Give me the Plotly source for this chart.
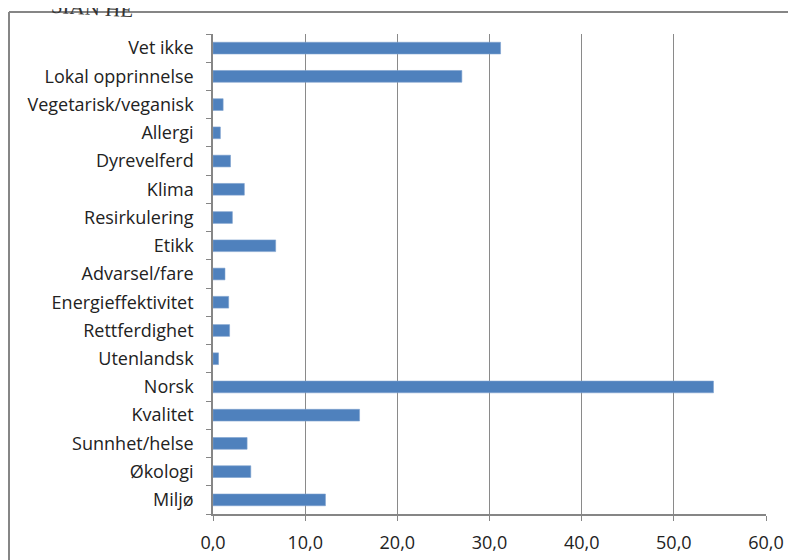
import plotly.graph_objects as go

categories = ["Miljø", "Økologi", "Sunnhet/helse", "Kvalitet", "Norsk", "Utenlandsk",
              "Rettferdighet", "Energieffektivitet", "Advarsel/fare", "Etikk",
              "Resirkulering", "Klima", "Dyrevelferd", "Allergi",
              "Vegetarisk/veganisk", "Lokal opprinnelse", "Vet ikke"]
values = [12.2, 4.1, 3.7, 15.9, 54.3, 0.6, 1.8, 1.7, 1.3, 6.8,
          2.1, 3.4, 1.9, 0.8, 1.1, 27.0, 31.2]
x_ticks = [0, 10, 20, 30, 40, 50, 60]

# plot area in figure pixels (page has 8px body offset)
L, R, T, B = 205, 758, 26, 506
PW, PH = R - L, B - T

fig = go.Figure(go.Bar(
    y=categories, x=values, orientation="h",
    marker=dict(color="#4F81BD", line=dict(color="#7EA1CE", width=0.6)),
))

AX = "#868686"
FONT = "Open Sans, Lato, sans-serif"
fig.update_layout(
    width=796, height=560,
    margin=dict(l=L, r=796 - R, t=T, b=560 - B, autoexpand=False),
    paper_bgcolor="white", plot_bgcolor="white",
    separators=",.",
    bargap=0.585,
    showlegend=False,
    font=dict(family=FONT, size=18, color="#222222"),
    xaxis=dict(range=[0, 60], tickvals=x_ticks, tickformat=".1f",
               showgrid=True, gridcolor="#8a8a8a", gridwidth=1,
               showline=True, linecolor=AX, linewidth=1.5,
               ticks="outside", ticklen=5, tickcolor=AX,
               zeroline=False, fixedrange=True, ticklabelstandoff=7,
               tickfont=dict(family=FONT, size=18, color="#222222")),
    yaxis=dict(type="category", categoryorder="array", categoryarray=categories,
               showline=True, linecolor=AX, linewidth=1.5,
               ticks="outside", ticklen=5, tickcolor=AX, tickson="boundaries",
               showgrid=False, ticklabelstandoff=14,
               tickfont=dict(family=FONT, size=18, color="#222222")),
    shapes=[
        dict(type="line", xref="paper", yref="paper",
             x0=(1 - L) / PW, x1=2, y0=(B - 4) / PH, y1=(B - 4) / PH,
             line=dict(color=AX, width=2)),
        dict(type="line", xref="paper", yref="paper",
             x0=(1 - L) / PW, x1=(1 - L) / PW, y0=(B - 4) / PH, y1=-1,
             line=dict(color=AX, width=2)),
    ],
    annotations=[
        dict(text="SIAN HE", xref="paper", yref="paper",
             x=(84 - L) / PW, y=(B + 0.5) / PH, xanchor="center", yanchor="middle",
             showarrow=False,
             font=dict(family="Liberation Serif, serif", size=21, color="#333333"),
             textangle=3),
    ],
)

fig.write_html("out.html")
